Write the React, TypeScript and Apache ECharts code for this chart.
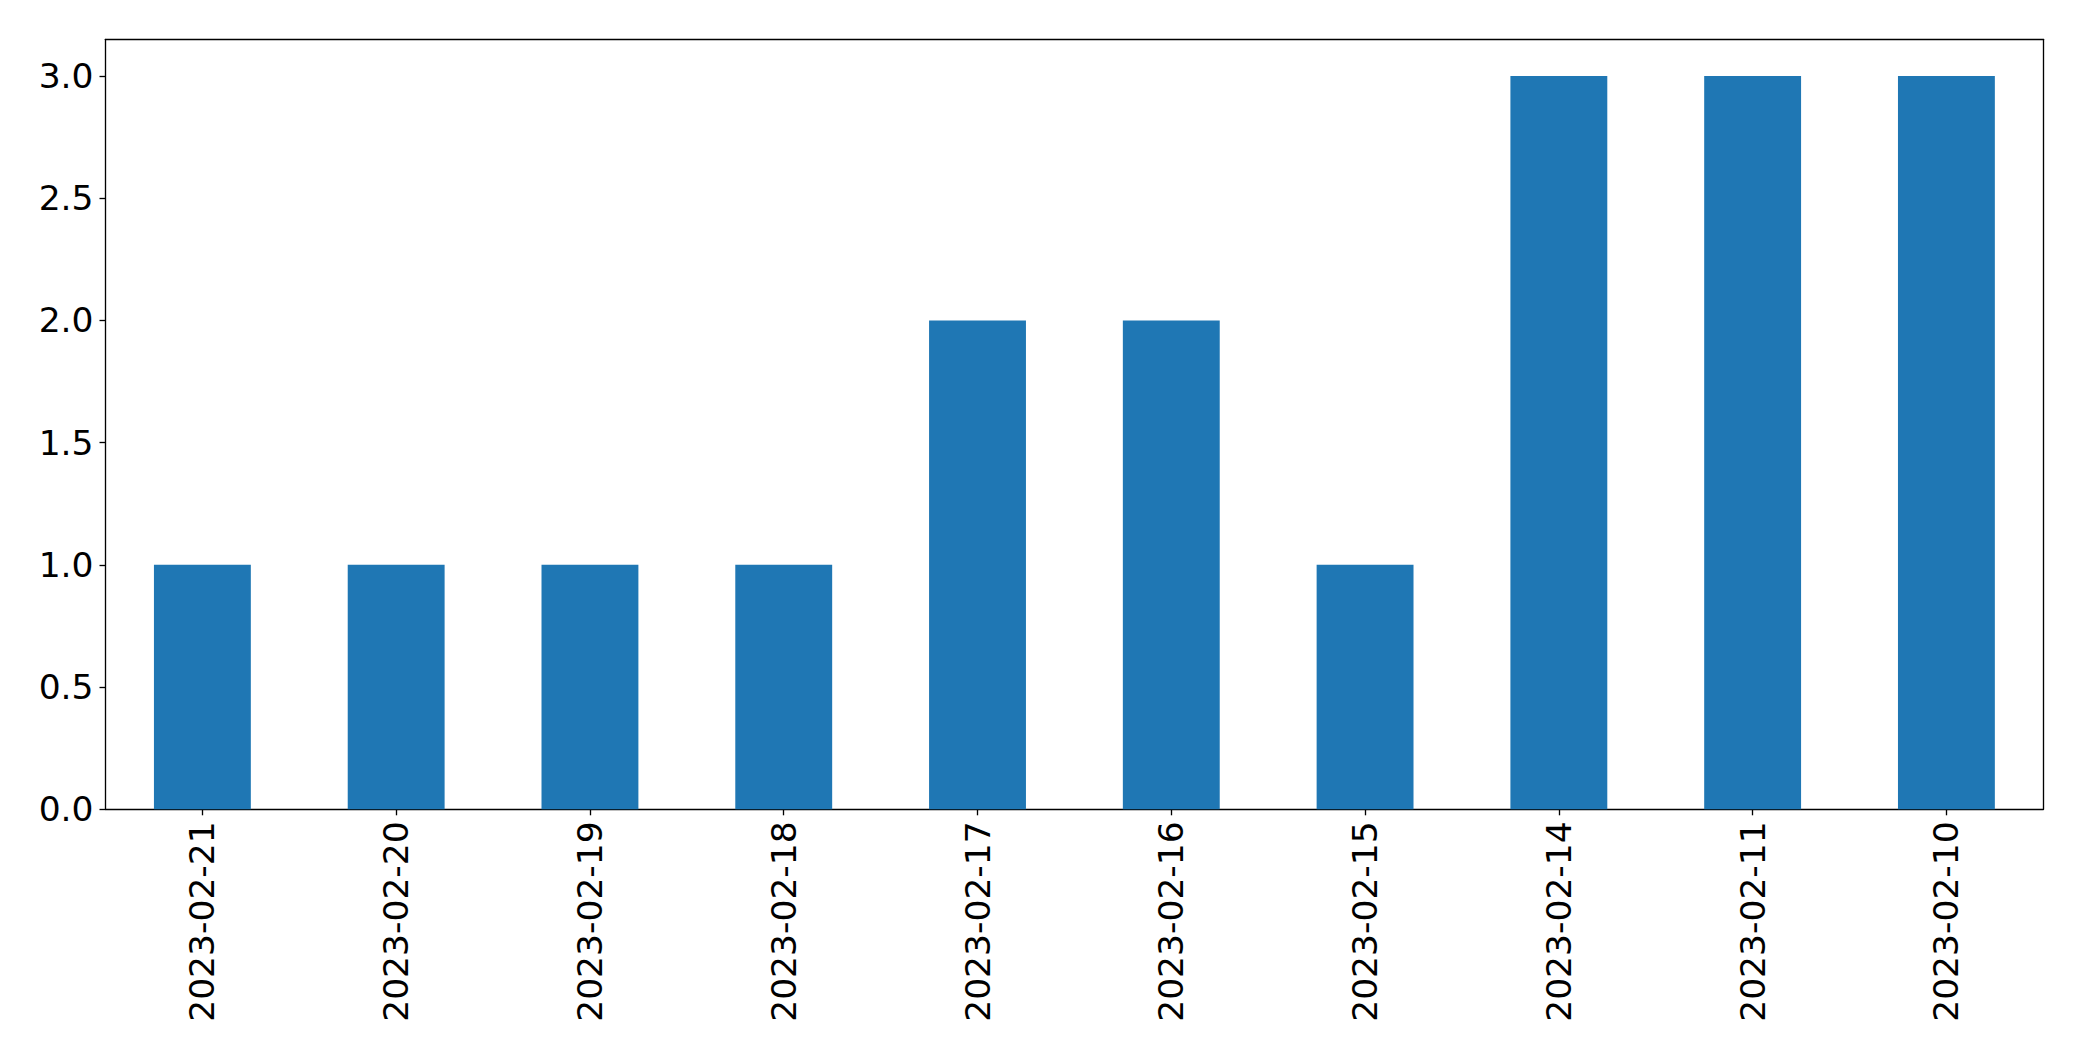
import React, { useEffect, useRef } from "react";
import * as echarts from "echarts";

const categories = [
  "2023-02-21",
  "2023-02-20",
  "2023-02-19",
  "2023-02-18",
  "2023-02-17",
  "2023-02-16",
  "2023-02-15",
  "2023-02-14",
  "2023-02-11",
  "2023-02-10",
];
const values = [1, 1, 1, 1, 2, 2, 1, 3, 3, 3];
const yTicks = [0, 0.5, 1, 1.5, 2, 2.5, 3];

const FONT = "DejaVu Sans";

export default function App() {
  const ref = useRef<HTMLDivElement>(null);
  useEffect(() => {
    const chart = echarts.init(ref.current!, null, { renderer: "svg" });
    const lineStyle = { color: "#000", width: 1.33 };
    chart.setOption({
      animation: false,
      backgroundColor: "#fff",
      grid: { left: 105.5, top: 39.3, right: 38.7, bottom: 251.7, containLabel: false },
      xAxis: [
        {
          type: "category",
          data: categories,
          boundaryGap: true,
          axisLine: { show: true, onZero: false, lineStyle },
          axisTick: { show: true, alignWithLabel: true, length: 6, lineStyle },
          axisLabel: {
            rotate: 90,
            margin: 12,
            fontFamily: FONT,
            fontSize: 34.5,
            color: "#000",
          },
          splitLine: { show: false },
        },
        {
          type: "category",
          position: "top",
          data: categories,
          axisLine: { show: true, onZero: false, lineStyle },
          axisTick: { show: false },
          axisLabel: { show: false },
          splitLine: { show: false },
        },
      ],
      yAxis: [
        {
          type: "value",
          min: 0,
          max: 3.15,
          axisLine: { show: true, onZero: false, lineStyle },
          axisTick: { show: true, length: 6, lineStyle, customValues: yTicks },
          axisLabel: {
            margin: 12,
            fontFamily: FONT,
            fontSize: 34.5,
            color: "#000",
            customValues: yTicks,
            formatter: (v: number) => v.toFixed(1),
          },
          splitLine: { show: false },
        },
        {
          type: "value",
          position: "right",
          min: 0,
          max: 3.15,
          axisLine: { show: true, onZero: false, lineStyle },
          axisTick: { show: false },
          axisLabel: { show: false },
          splitLine: { show: false },
        },
      ],
      series: [
        {
          type: "bar",
          data: values,
          barWidth: "50%",
          itemStyle: { color: "#1f77b4" },
        },
      ],
    });
    return () => chart.dispose();
  }, []);
  return (
    <div
      ref={ref}
      style={{ position: "absolute", left: 0, top: 0, width: 2082, height: 1061 }}
    />
  );
}
